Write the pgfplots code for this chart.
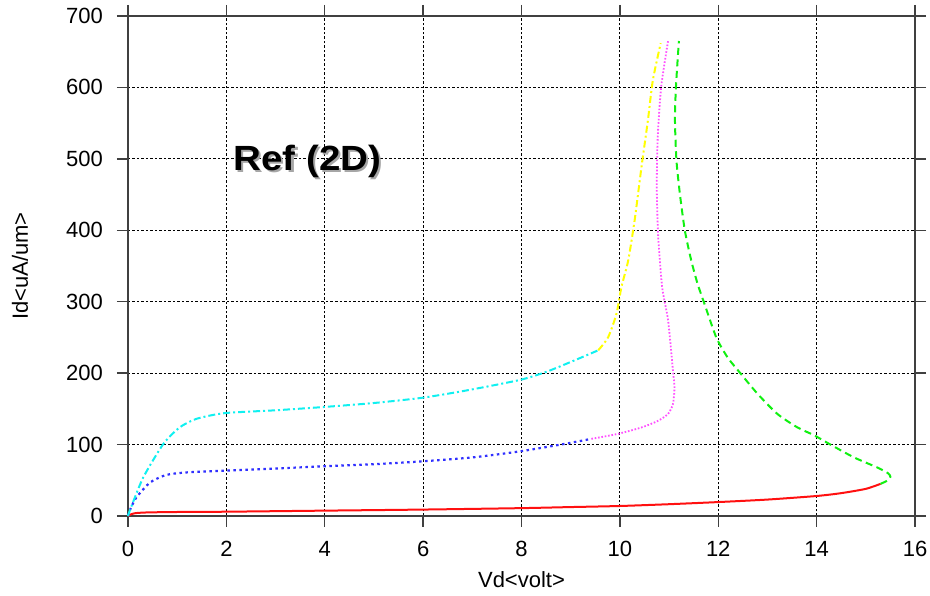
\documentclass[border=0pt]{standalone}
\usepackage{fontspec}
\setmainfont{Liberation Sans}
\newfontfamily\reffont{Liberation Sans}[FakeStretch=1.1]
\usepackage{pgfplots}
\pgfplotsset{compat=1.18}
\definecolor{axgray}{HTML}{404040}
\definecolor{cred}{HTML}{FF1010}
\definecolor{cgreen}{HTML}{10F010}
\definecolor{cblue}{HTML}{3030FF}
\definecolor{cmag}{HTML}{FF50FF}
\definecolor{ccyan}{HTML}{10F0F0}
\definecolor{cyel}{HTML}{FFFF00}
\begin{document}
\begin{tikzpicture}
\useasboundingbox (-128pt,-80pt) rectangle (802pt,516pt);
\begin{axis}[
  at={(0pt,0pt)}, anchor=south west,
  scale only axis, width=787pt, height=500pt,
  xmin=0, xmax=16, ymin=0, ymax=700,
  xtick={0,2,...,16}, ytick={0,100,...,700},
  /pgf/number format/assume math mode=true,
  ticklabel style={font=\fontsize{22}{26}\selectfont, inner sep=0pt},
  xticklabel style={anchor=north, yshift=-14pt},
  yticklabel style={anchor=east, xshift=-14pt},
  tick align=outside, major tick length=11pt,
  tick style={axgray, line width=1.3pt},
  axis line style={axgray, line width=1.4pt},
  grid=major,
  major grid style={black, line width=1.1pt, dash pattern=on 2.5pt off 2pt},
  xlabel={Vd<volt>}, ylabel={Id<uA/um>},
  label style={font=\fontsize{22}{26}\selectfont},
  xlabel style={at={(rel axis cs:0.5,0)}, anchor=base, yshift=-72pt},
  ylabel style={at={(rel axis cs:0,0.5)}, anchor=base, yshift=100pt},
  clip=false,
]
% red solid
\addplot[cred, line width=2pt, line join=round, smooth, tension=0.4] coordinates {
(0,0) (0.05,2) (0.15,4) (0.4,5) (1,5.6) (2,6) (4,7.5) (6,9) (8,11) (9,12.5) (10,14) (11,16.5) (12,19.5) (13,23) (14,28) (14.5,32) (15,38) (15.3,45)};
% green dashed
\addplot[cgreen, line width=2pt, dash pattern=on 7pt off 4.5pt, line join=round, smooth, tension=0.4] coordinates {
(15.3,45) (15.45,50) (15.5,55) (15.45,60) (15.23,68) (14.76,82) (14.28,100) (13.95,113) (13.61,124) (13.2,143) (12.8,171) (12.46,199) (12.19,222) (11.96,250) (11.72,297) (11.58,325) (11.45,358) (11.32,400) (11.22,451) (11.15,498) (11.12,554) (11.14,601) (11.2,665)};
% blue dotted
\addplot[cblue, line width=2.2pt, dash pattern=on 2.5pt off 3.5pt, line join=round, smooth, tension=0.4] coordinates {
(0,0) (0.05,10) (0.17,26) (0.45,47) (0.78,57.5) (1.19,61) (1.96,63.5) (3,66.5) (3.96,69.5) (5,72.5) (5.98,76.5) (7,82) (7.97,90.5) (8.88,101) (9.42,108)};
% magenta dotted
\addplot[cmag, line width=1.8pt, dash pattern=on 1.6pt off 1.8pt, line join=round, smooth, tension=0.4] coordinates {
(9.42,108) (9.96,115) (10.44,124) (10.77,133) (10.98,143) (11.08,157) (11.11,180) (11.08,203) (10.98,274) (10.86,320) (10.78,390) (10.75,460) (10.77,531) (10.84,601) (10.98,665)};
% cyan dash-dot
\addplot[ccyan, line width=2pt, dash pattern=on 7pt off 3pt on 2pt off 3pt, line join=round, smooth, tension=0.4] coordinates {
(0,0) (0.05,10) (0.31,54) (0.72,101) (1.05,124) (1.39,136) (1.96,144) (3,148) (3.96,152.5) (4.97,158) (5.98,165.5) (6.86,175.5) (7.97,190.5) (8.55,203) (9.22,222) (9.56,232)};
% yellow dash-dot
\addplot[cyel, line width=2pt, dash pattern=on 7pt off 3pt on 2pt off 3pt, line join=round, smooth, tension=0.4] coordinates {
(9.56,232) (9.76,250) (9.93,283) (10.03,320) (10.17,358) (10.30,414) (10.44,489) (10.57,554) (10.67,610) (10.83,662)};
\node[anchor=base, inner sep=0pt, text=black, font=\reffont\bfseries\fontsize{35}{40}\selectfont] at (axis cs:3.645,484)
  {\rlap{\hspace{2.5pt}\raisebox{-2.5pt}{\textcolor{gray!70}{Ref (2D)}}}Ref (2D)};
\end{axis}
\end{tikzpicture}
\end{document}
